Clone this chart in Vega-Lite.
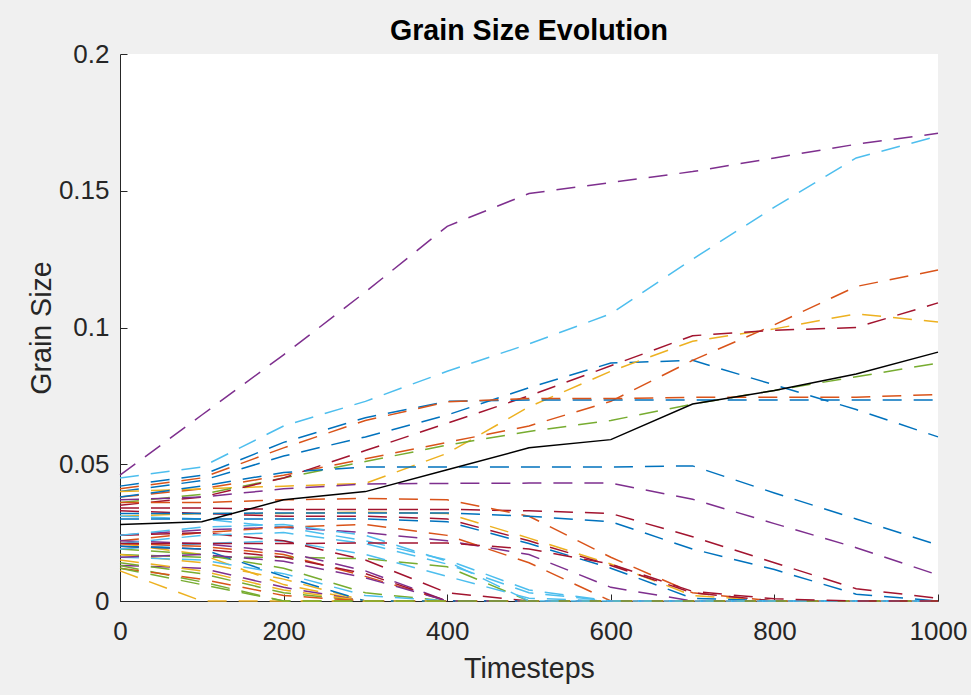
{
  "$schema": "https://vega.github.io/schema/vega-lite/v6.json",
  "width": 818,
  "height": 547,
  "autosize": {"type": "none"},
  "padding": {"left": 120, "top": 54, "right": 33, "bottom": 94},
  "background": "#f0f0f0",
  "config": {"view": {"fill": "white", "stroke": null}, "font": "Liberation Sans"},
  "title": {"text": "Grain Size Evolution", "fontSize": 28.6, "fontWeight": "bold", "color": "#000000", "font": "Liberation Sans", "frame": "group", "anchor": "middle", "offset": -5},
  "data": {"values": [
    {"t": 0, "g01": 0.040, "g02": 0.038, "g03": 0.040, "g04": 0.046, "g05": 0.036, "g06": 0.045, "g07": 0.035, "g08": 0.042, "g09": 0.041, "g10": 0.031, "g11": 0.037, "g12": 0.017, "g13": 0.031, "g14": 0.034, "g15": 0.038, "g16": 0.036, "g17": 0.021, "g18": 0.024, "g19": 0.019, "g20": 0.019, "g21": 0.033, "g22": 0.032, "g23": 0.022, "g24": 0.017, "g25": 0.013, "g26": 0.014, "g27": 0.016, "g28": 0.024, "g29": 0.030, "g30": 0.021, "g31": 0.015, "g32": 0.022, "g33": 0.013, "g34": 0.021, "g35": 0.020, "g36": 0.020, "g37": 0.012, "g38": 0.011, "g39": 0.016, "g40": 0.012, "g41": 0.024, "g42": 0.021, "mean": 0.028},
    {"t": 100, "g01": 0.044, "g02": 0.041, "g03": 0.041, "g04": 0.068, "g05": 0.039, "g06": 0.049, "g07": 0.038, "g08": 0.046, "g09": 0.045, "g10": 0.032, "g11": 0.038, "g12": 0.016, "g13": 0.030, "g14": 0.034, "g15": 0.042, "g16": 0.036, "g17": 0.017, "g18": 0.026, "g19": 0.017, "g20": 0.021, "g21": 0.032, "g22": 0.032, "g23": 0.025, "g24": 0.014, "g25": 0.012, "g26": 0.010, "g27": 0.015, "g28": 0.025, "g29": 0.030, "g30": 0.020, "g31": 0.011, "g32": 0.021, "g33": 0.007, "g34": 0.024, "g35": 0.019, "g36": 0.019, "g37": 0.008, "g38": 0, "g39": 0.017, "g40": 0.006, "g41": 0.027, "g42": 0.021, "mean": 0.029},
    {"t": 200, "g01": 0.053, "g02": 0.046, "g03": 0.042, "g04": 0.090, "g05": 0.045, "g06": 0.064, "g07": 0.045, "g08": 0.058, "g09": 0.056, "g10": 0.032, "g11": 0.041, "g12": 0.016, "g13": 0.027, "g14": 0.0335, "g15": 0.047, "g16": 0.037, "g17": 0.006, "g18": 0.027, "g19": 0.012, "g20": 0.022, "g21": 0.031, "g22": 0.0322, "g23": 0.027, "g24": 0.008, "g25": 0.005, "g26": 0.003, "g27": 0.010, "g28": 0.022, "g29": 0.030, "g30": 0.017, "g31": 0.004, "g32": 0.018, "g33": 0, "g34": 0.025, "g35": 0.016, "g36": 0.009, "g37": 0.002, "g38": 0, "g39": 0.0145, "g40": 0, "g41": 0.028, "g42": 0.021, "mean": 0.037},
    {"t": 300, "g01": 0.060, "g02": 0.052, "g03": 0.043, "g04": 0.113, "g05": 0.051, "g06": 0.073, "g07": 0.055, "g08": 0.067, "g09": 0.066, "g10": 0.0325, "g11": 0.0428, "g12": 0.0155, "g13": 0.022, "g14": 0.0335, "g15": 0.049, "g16": 0.0375, "g17": 0, "g18": 0.025, "g19": 0.003, "g20": 0.017, "g21": 0.031, "g22": 0.0322, "g23": 0.028, "g24": 0, "g25": 0, "g26": 0, "g27": 0.002, "g28": 0.015, "g29": 0.030, "g30": 0.009, "g31": 0, "g32": 0.011, "g33": 0, "g34": 0.021, "g35": 0.010, "g36": 0, "g37": 0, "g38": 0, "g39": 0.0085, "g40": 0, "g41": 0.024, "g42": 0.0212, "mean": 0.040},
    {"t": 400, "g01": 0.068, "g02": 0.058, "g03": 0.054, "g04": 0.137, "g05": 0.057, "g06": 0.084, "g07": 0.065, "g08": 0.073, "g09": 0.0728, "g10": 0.032, "g11": 0.043, "g12": 0.0125, "g13": 0.015, "g14": 0.0335, "g15": 0.049, "g16": 0.037, "g17": 0, "g18": 0.022, "g19": 0, "g20": 0.009, "g21": 0.030, "g22": 0.0322, "g23": 0.024, "g24": 0, "g25": 0, "g26": 0, "g27": 0, "g28": 0.003, "g29": 0.029, "g30": 0, "g31": 0, "g32": 0, "g33": 0, "g34": 0.0135, "g35": 0, "g36": 0, "g37": 0, "g38": 0, "g39": 0, "g40": 0, "g41": 0.0145, "g42": 0.0212, "mean": 0.048},
    {"t": 500, "g01": 0.078, "g02": 0.064, "g03": 0.071, "g04": 0.149, "g05": 0.062, "g06": 0.094, "g07": 0.075, "g08": 0.0735, "g09": 0.074, "g10": 0.023, "g11": 0.0431, "g12": 0, "g13": 0.004, "g14": 0.033, "g15": 0.049, "g16": 0.031, "g17": 0, "g18": 0.017, "g19": 0, "g20": 0.001, "g21": 0.022, "g22": 0.031, "g23": 0.014, "g24": 0, "g25": 0, "g26": 0, "g27": 0, "g28": 0, "g29": 0.021, "g30": 0, "g31": 0, "g32": 0, "g33": 0, "g34": 0.003, "g35": 0, "g36": 0, "g37": 0, "g38": 0, "g39": 0, "g40": 0, "g41": 0, "g42": 0.019, "mean": 0.056},
    {"t": 600, "g01": 0.087, "g02": 0.073, "g03": 0.084, "g04": 0.153, "g05": 0.066, "g06": 0.105, "g07": 0.086, "g08": 0.0735, "g09": 0.074, "g10": 0.0135, "g11": 0.0431, "g12": 0, "g13": 0, "g14": 0.032, "g15": 0.049, "g16": 0.016, "g17": 0, "g18": 0.005, "g19": 0, "g20": 0, "g21": 0.013, "g22": 0.029, "g23": 0, "g24": 0, "g25": 0, "g26": 0, "g27": 0, "g28": 0, "g29": 0.012, "g30": 0, "g31": 0, "g32": 0, "g33": 0, "g34": 0, "g35": 0, "g36": 0, "g37": 0, "g38": 0, "g39": 0, "g40": 0, "g41": 0, "g42": 0.0135, "mean": 0.059},
    {"t": 700, "g01": 0.088, "g02": 0.088, "g03": 0.095, "g04": 0.157, "g05": 0.072, "g06": 0.125, "g07": 0.097, "g08": 0.0735, "g09": 0.0745, "g10": 0.002, "g11": 0.0372, "g12": 0, "g13": 0, "g14": 0.0235, "g15": 0.0494, "g16": 0.003, "g17": 0, "g18": 0, "g19": 0, "g20": 0, "g21": 0.003, "g22": 0.019, "g23": 0, "g24": 0, "g25": 0, "g26": 0, "g27": 0, "g28": 0, "g29": 0.001, "g30": 0, "g31": 0, "g32": 0, "g33": 0, "g34": 0, "g35": 0, "g36": 0, "g37": 0, "g38": 0, "g39": 0, "g40": 0, "g41": 0, "g42": 0.0035, "mean": 0.072},
    {"t": 800, "g01": 0.079, "g02": 0.101, "g03": 0.0995, "g04": 0.162, "g05": 0.077, "g06": 0.144, "g07": 0.099, "g08": 0.0735, "g09": 0.0745, "g10": 0, "g11": 0.0283, "g12": 0, "g13": 0, "g14": 0.014, "g15": 0.0395, "g16": 0, "g17": 0, "g18": 0, "g19": 0, "g20": 0, "g21": 0, "g22": 0.0115, "g23": 0, "g24": 0, "g25": 0, "g26": 0, "g27": 0, "g28": 0, "g29": 0, "g30": 0, "g31": 0, "g32": 0, "g33": 0, "g34": 0, "g35": 0, "g36": 0, "g37": 0, "g38": 0, "g39": 0, "g40": 0, "g41": 0, "g42": 0.0008, "mean": 0.077},
    {"t": 900, "g01": 0.070, "g02": 0.115, "g03": 0.105, "g04": 0.167, "g05": 0.082, "g06": 0.162, "g07": 0.100, "g08": 0.0735, "g09": 0.0745, "g10": 0, "g11": 0.0195, "g12": 0, "g13": 0, "g14": 0.0045, "g15": 0.030, "g16": 0, "g17": 0, "g18": 0, "g19": 0, "g20": 0, "g21": 0, "g22": 0.0025, "g23": 0, "g24": 0, "g25": 0, "g26": 0, "g27": 0, "g28": 0, "g29": 0, "g30": 0, "g31": 0, "g32": 0, "g33": 0, "g34": 0, "g35": 0, "g36": 0, "g37": 0, "g38": 0, "g39": 0, "g40": 0, "g41": 0, "g42": 0, "mean": 0.083},
    {"t": 1000, "g01": 0.060, "g02": 0.121, "g03": 0.102, "g04": 0.171, "g05": 0.087, "g06": 0.170, "g07": 0.109, "g08": 0.0735, "g09": 0.0755, "g10": 0, "g11": 0.0095, "g12": 0, "g13": 0, "g14": 0.001, "g15": 0.0205, "g16": 0, "g17": 0, "g18": 0, "g19": 0, "g20": 0, "g21": 0, "g22": 0, "g23": 0, "g24": 0, "g25": 0, "g26": 0, "g27": 0, "g28": 0, "g29": 0, "g30": 0, "g31": 0, "g32": 0, "g33": 0, "g34": 0, "g35": 0, "g36": 0, "g37": 0, "g38": 0, "g39": 0, "g40": 0, "g41": 0, "g42": 0, "mean": 0.091}
  ]},
  "layer": [
    {
      "transform": [{"fold": ["g01","g02","g03","g04","g05","g06","g07","g08","g09","g10","g11","g12","g13","g14","g15","g16","g17","g18","g19","g20","g21","g22","g23","g24","g25","g26","g27","g28","g29","g30","g31","g32","g33","g34","g35","g36","g37","g38","g39","g40","g41","g42"], "as": ["g", "v"]}],
      "mark": {"type": "line", "strokeWidth": 1.5, "strokeDash": [19, 12], "clip": false},
      "encoding": {
        "x": {"field": "t", "type": "quantitative", "title": "Timesteps", "scale": {"domain": [0, 1000], "nice": false},
          "axis": {"values": [0, 200, 400, 600, 800, 1000], "format": "d", "grid": false, "labelFlush": false, "domainColor": "#262626", "tickColor": "#262626", "tickSize": -7, "labelFontSize": 26, "labelColor": "#262626", "labelPadding": 24.5, "titleFontSize": 28.6, "titleColor": "#262626", "titleFontWeight": "normal", "titlePadding": 10}},
        "y": {"field": "v", "type": "quantitative", "title": "Grain Size", "scale": {"domain": [0, 0.2], "nice": false},
          "axis": {"values": [0, 0.05, 0.1, 0.15, 0.2], "format": "~g", "grid": false, "labelFlush": false, "domainColor": "#262626", "tickColor": "#262626", "tickSize": -7, "labelFontSize": 26, "labelColor": "#262626", "labelPadding": 18, "titleFontSize": 28.6, "titleColor": "#262626", "titleFontWeight": "normal", "titlePadding": 2}},
        "color": {"field": "g", "type": "nominal", "legend": null,
          "scale": {"domain": ["g01","g02","g03","g04","g05","g06","g07","g08","g09","g10","g11","g12","g13","g14","g15","g16","g17","g18","g19","g20","g21","g22","g23","g24","g25","g26","g27","g28","g29","g30","g31","g32","g33","g34","g35","g36","g37","g38","g39","g40","g41","g42"],
            "range": ["#0072BD","#D95319","#EDB120","#7E2F8E","#77AC30","#4DBEEE","#A2142F","#0072BD","#D95319","#EDB120","#7E2F8E","#77AC30","#4DBEEE","#A2142F","#0072BD","#D95319","#EDB120","#7E2F8E","#77AC30","#4DBEEE","#A2142F","#0072BD","#D95319","#EDB120","#7E2F8E","#77AC30","#4DBEEE","#A2142F","#0072BD","#D95319","#EDB120","#7E2F8E","#77AC30","#4DBEEE","#A2142F","#0072BD","#D95319","#EDB120","#7E2F8E","#77AC30","#4DBEEE","#A2142F"]}}
      }
    },
    {
      "mark": {"type": "line", "color": "#000000", "strokeWidth": 1.5},
      "encoding": {
        "x": {"field": "t", "type": "quantitative", "title": "Timesteps"},
        "y": {"field": "mean", "type": "quantitative", "title": "Grain Size"}
      }
    }
  ]
}
